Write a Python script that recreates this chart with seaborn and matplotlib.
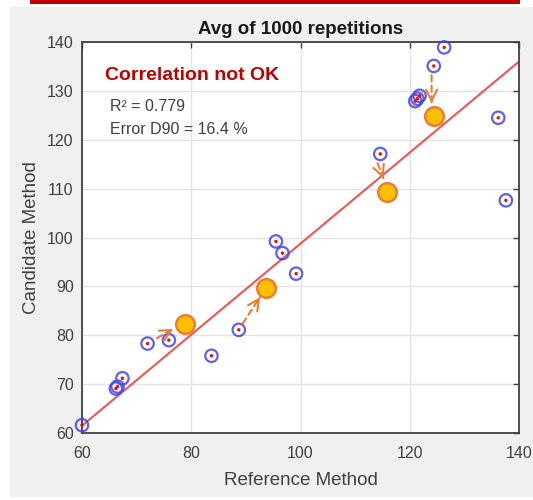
import numpy as np
import pandas as pd
import matplotlib
matplotlib.use('Agg')
import matplotlib.pyplot as plt
import seaborn as sns
from matplotlib.patches import Rectangle

# Datos
ref_x = [60.0, 66.2, 66.5, 67.4, 72.0, 75.9, 83.7, 88.7, 95.5, 96.7, 99.2,
         114.6, 121.0, 121.4, 121.8, 124.4, 126.3, 136.2, 137.6]
cand_y = [61.6, 69.1, 69.5, 71.2, 78.3, 79.0, 75.8, 81.1, 99.2, 96.8, 92.6,
          117.1, 127.9, 128.4, 129.0, 135.1, 138.9, 124.5, 107.6]

# Puntos corregidos (naranja)
corr_x = [78.9, 93.7, 115.9, 124.4]
corr_y = [82.4, 89.7, 109.4, 124.9]

# Flechas: origen -> destino
arrow_x0 = [73.7, 89.4, 114.1, 124.0]
arrow_y0 = [79.4, 82.4, 115.2, 133.2]
arrow_x1 = [76.7, 92.6, 115.2, 124.0]
arrow_y1 = [81.3, 87.8, 112.1, 127.5]

# Recta de ajuste
fit_x = [60, 140]
fit_y = [61.5, 136.0]

x_ticks = [60, 80, 100, 120, 140]
y_ticks = [60, 70, 80, 90, 100, 110, 120, 130, 140]

sns.set_style('whitegrid')
plt.rcParams['font.family'] = ['Liberation Sans', 'DejaVu Sans']

fig = plt.figure(figsize=(5.33, 5.0), dpi=100)
fig.patch.set_facecolor('white')
# panel gris tipo MATLAB y barra roja arriba
fig.patches.append(Rectangle((10 / 533, 3 / 500), 523 / 533, 490 / 500,
                             transform=fig.transFigure, facecolor='#f0f0f0',
                             edgecolor='none', zorder=-10))
fig.patches.append(Rectangle((30 / 533, 496 / 500), 490 / 533, 4 / 500,
                             transform=fig.transFigure, facecolor='#c00000',
                             edgecolor='none', zorder=-10))

ax = fig.add_axes([82 / 533, (500 - 433) / 500, 437 / 533, 391 / 500])
ax.set_facecolor('white')

df = pd.DataFrame({'ref': ref_x, 'cand': cand_y})
df_fit = pd.DataFrame({'x': fit_x, 'y': fit_y})
df_corr = pd.DataFrame({'x': corr_x, 'y': corr_y})

sns.lineplot(data=df_fit, x='x', y='y', color='#f05555', linewidth=1.5, ax=ax, zorder=2)
sns.scatterplot(data=df, x='ref', y='cand', s=80, facecolor='none',
                edgecolor='#4545e6', linewidth=1.6, alpha=0.85, ax=ax, zorder=3, clip_on=False)
sns.scatterplot(data=df, x='ref', y='cand', s=6, color='#e01010',
                edgecolor='none', ax=ax, zorder=4, clip_on=False)

# flechas: linea discontinua + punta abierta solida
for x0, y0, x1, y1 in zip(arrow_x0, arrow_y0, arrow_x1, arrow_y1):
    ax.annotate('', xy=(x1, y1), xytext=(x0, y0),
                arrowprops=dict(arrowstyle='-', color='#ed7d31', lw=1.5,
                                linestyle=(0, (3, 2)), shrinkA=0, shrinkB=0), zorder=5)
    xm = x0 + 0.8 * (x1 - x0)
    ym = y0 + 0.8 * (y1 - y0)
    ax.annotate('', xy=(x1, y1), xytext=(xm, ym),
                arrowprops=dict(arrowstyle='->', color='#ed7d31', lw=1.5,
                                mutation_scale=20, shrinkA=0, shrinkB=0), zorder=5)

sns.scatterplot(data=df_corr, x='x', y='y', s=180, color='#ffc000',
                edgecolor='#ed7d31', linewidth=1.8, ax=ax, zorder=6)

ax.set_xlim(60, 140)
ax.set_ylim(60, 140)
ax.set_xticks(x_ticks)
ax.set_yticks(y_ticks)
ax.grid(True, color='#e3e3e3', linewidth=1.0)
for s in ax.spines.values():
    s.set_color('#404040')
    s.set_linewidth(1.3)
ax.tick_params(direction='in', length=4, width=1, color='#404040',
               top=True, right=True, labelsize=11.5, labelcolor='#404040')
ax.tick_params(axis='x', pad=9)
ax.tick_params(axis='y', pad=6)

ax.set_xlabel('Reference Method', fontsize=13.5, color='#404040', labelpad=8)
ax.set_ylabel('Candidate Method', fontsize=13.5, color='#404040', labelpad=5)
ax.set_title('Avg of 1000 repetitions', fontsize=13.5, fontweight='bold', color='#1a1a1a', pad=6)

ax.text(64.2, 133.1, 'Correlation not OK', fontsize=14, fontweight='bold',
        color='#c00000', va='center')
ax.text(65.2, 126.8, 'R² = 0.779', fontsize=11.5, color='#404040', va='center')
ax.text(65.2, 122.1, 'Error D90 = 16.4 %', fontsize=11.5, color='#404040', va='center')

fig.savefig('out.png', dpi=100)
